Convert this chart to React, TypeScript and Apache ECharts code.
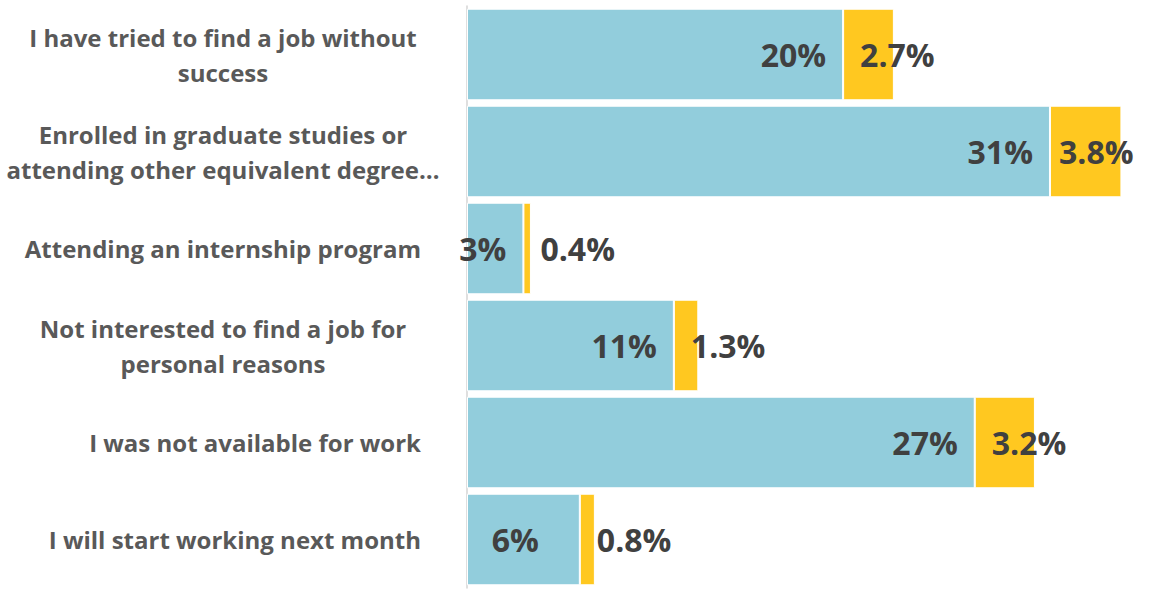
import React, { useEffect, useRef } from "react";
import * as echarts from "echarts";

// Reasons for not working, top to bottom
const categories = [
  "I have tried to find a job without\nsuccess",
  "Enrolled in graduate studies or\nattending other equivalent degree…",
  "Attending an internship program",
  "Not interested to find a job for\npersonal reasons",
  "I was not available for work",
  "I will start working next month",
];

// Share of respondents (%)
const mainShare = [20, 31, 3, 11, 27, 6];
const extraShare = [2.7, 3.8, 0.4, 1.3, 3.2, 0.8];

const BLUE = "#92CDDC";
const YELLOW = "#FFC820";
const LABEL_DARK = "#404040";
const CAT_GRAY = "#595959";
const FONT = "'Open Sans', sans-serif";

export default function App() {
  const ref = useRef<HTMLDivElement>(null);

  useEffect(() => {
    if (!ref.current) return;
    const chart = echarts.init(ref.current, undefined, { renderer: "svg" });

    // ECharts draws category axes bottom-up, so reverse to keep the listed order
    const cats = [...categories].reverse();
    const mainVals = [...mainShare].reverse();
    const extraVals = [...extraShare].reverse();

    const catFont = {
      fontFamily: FONT,
      fontWeight: "bold" as const,
      fontSize: 24,
      lineHeight: 35,
      color: CAT_GRAY,
    };

    const labelBase = {
      show: true,
      fontFamily: FONT,
      fontWeight: "bold" as const,
      fontSize: 32,
      color: LABEL_DARK,
      formatter: (p: any) => `${p.value}%`,
    };

    chart.setOption({
      animation: false,
      grid: { left: 467, right: 9, top: 6, bottom: 3, containLabel: false },
      xAxis: {
        type: "value",
        min: 0,
        max: 36,
        show: false,
      },
      yAxis: {
        type: "category",
        data: cats,
        offset: 1,
        axisLine: { show: true, lineStyle: { color: "#D4D4D4", width: 1.5 } },
        axisTick: { show: false },
        axisLabel: {
          margin: 45,
          ...catFont,
          align: "right",
          // wrapped labels: lines centred within a fixed-width block
          formatter: (v: string) =>
            v.includes("\n")
              ? v
                  .split("\n")
                  .map((l) => `{c|${l}}`)
                  .join("\n")
              : v,
          rich: {
            c: { ...catFont, width: 396, align: "center" },
          },
        },
      },
      series: [
        {
          type: "bar",
          stack: "share",
          barCategoryGap: "5.6%",
          data: mainVals.map((v) => {
            const item: any = { value: v };
            if (v === 6) item.label = { distance: 41 };
            return item;
          }),
          itemStyle: { color: BLUE, borderColor: "#ffffff", borderWidth: 1 },
          label: { ...labelBase, position: "insideRight", distance: 17 },
        },
        {
          type: "bar",
          stack: "share",
          data: extraVals.map((v) => {
            const item: any = { value: v };
            if (v === 3.8) item.label = { distance: 9 };
            return item;
          }),
          itemStyle: { color: YELLOW, borderColor: "#ffffff", borderWidth: 1 },
          label: { ...labelBase, position: "insideLeft", distance: 17 },
        },
      ],
    });

    return () => chart.dispose();
  }, []);

  return (
    <div
      ref={ref}
      style={{ position: "fixed", left: 0, top: 0, width: 1153, height: 591, background: "#fff" }}
    />
  );
}
